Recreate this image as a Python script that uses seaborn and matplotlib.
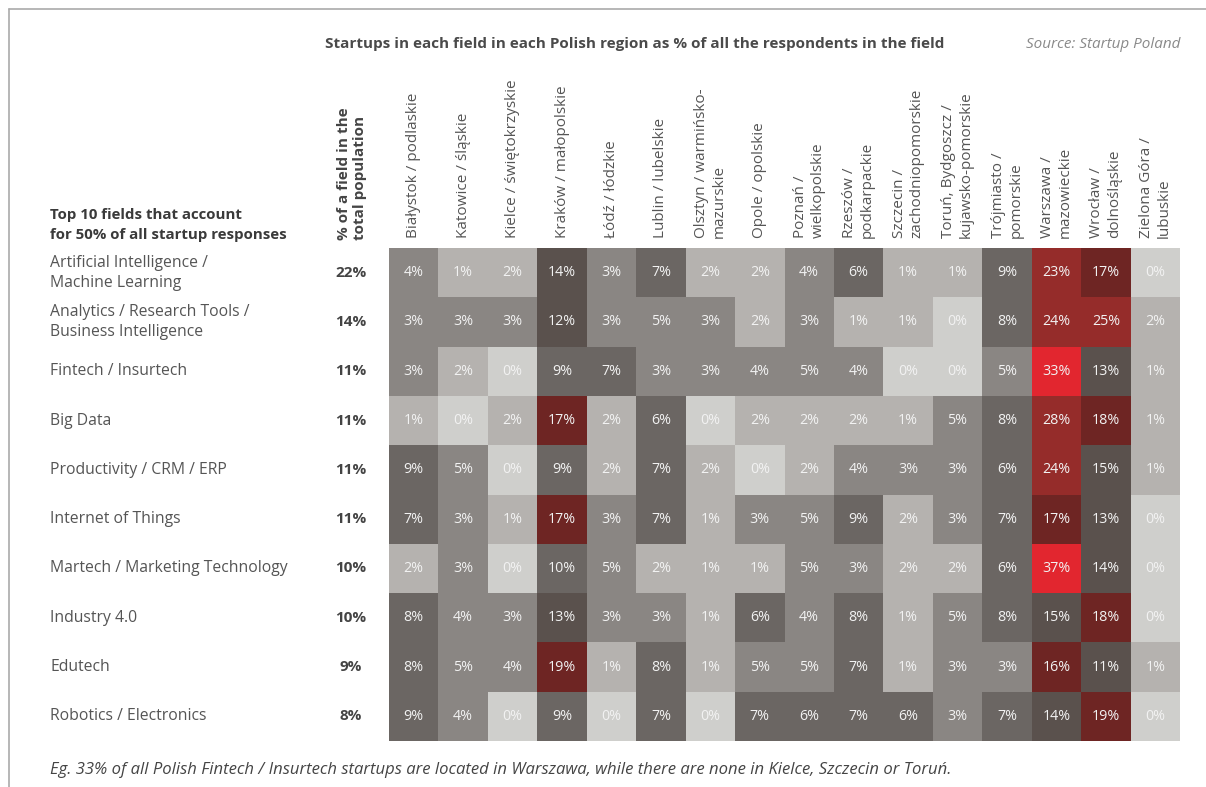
import numpy as np
import pandas as pd
import seaborn as sns
import matplotlib.pyplot as plt
from matplotlib.colors import ListedColormap, BoundaryNorm
from matplotlib.lines import Line2D
import matplotlib.transforms as mtransforms

sns.set_theme(style="white")
plt.rcParams['font.family'] = ['Open Sans', 'DejaVu Sans']

# dati
regions = [
    "Białystok / podlaskie", "Katowice / śląskie", "Kielce / świętokrzyskie",
    "Kraków / małopolskie", "Łódź / łódzkie", "Lublin / lubelskie",
    "Olsztyn / warmińsko-\nmazurskie", "Opole / opolskie", "Poznań /\nwielkopolskie",
    "Rzeszów /\npodkarpackie", "Szczecin /\nzachodniopomorskie",
    "Toruń, Bydgoszcz /\nkujawsko-pomorskie", "Trójmiasto /\npomorskie",
    "Warszawa /\nmazowieckie", "Wrocław /\ndolnośląskie", "Zielona Góra /\nlubuskie",
]
fields = [
    "Artificial Intelligence /\nMachine Learning",
    "Analytics / Research Tools /\nBusiness Intelligence",
    "Fintech / Insurtech",
    "Big Data",
    "Productivity / CRM / ERP",
    "Internet of Things",
    "Martech / Marketing Technology",
    "Industry 4.0",
    "Edutech",
    "Robotics / Electronics",
]
field_share = [22, 14, 11, 11, 11, 11, 10, 10, 9, 8]

ai = [4, 1, 2, 14, 3, 7, 2, 2, 4, 6, 1, 1, 9, 23, 17, 0]
analytics = [3, 3, 3, 12, 3, 5, 3, 2, 3, 1, 1, 0, 8, 24, 25, 2]
fintech = [3, 2, 0, 9, 7, 3, 3, 4, 5, 4, 0, 0, 5, 33, 13, 1]
big_data = [1, 0, 2, 17, 2, 6, 0, 2, 2, 2, 1, 5, 8, 28, 18, 1]
productivity = [9, 5, 0, 9, 2, 7, 2, 0, 2, 4, 3, 3, 6, 24, 15, 1]
iot = [7, 3, 1, 17, 3, 7, 1, 3, 5, 9, 2, 3, 7, 17, 13, 0]
martech = [2, 3, 0, 10, 5, 2, 1, 1, 5, 3, 2, 2, 6, 37, 14, 0]
industry = [8, 4, 3, 13, 3, 3, 1, 6, 4, 8, 1, 5, 8, 15, 18, 0]
edutech = [8, 5, 4, 19, 1, 8, 1, 5, 5, 7, 1, 3, 3, 16, 11, 1]
robotics = [9, 4, 0, 9, 0, 7, 0, 7, 6, 7, 6, 3, 7, 14, 19, 0]

df = pd.DataFrame(
    [ai, analytics, fintech, big_data, productivity, iot, martech, industry, edutech, robotics],
    index=fields, columns=regions,
)
labels = df.map(lambda v: f"{v}%")

# scala a classi: grigi per valori bassi, rossi per i più alti
bounds = [-0.5, 0.5, 2.5, 5.5, 10.5, 15.5, 19.5, 29.5, 40]
colors = ["#cfcfcc", "#b5b2af", "#8a8683", "#6b6663", "#5a514d",
          "#6e2523", "#952c2a", "#e2262f"]
cmap = ListedColormap(colors)
norm = BoundaryNorm(bounds, cmap.N)

fig = plt.figure(figsize=(12.06, 7.87), dpi=100)
ax = fig.add_axes([389 / 1206, 1 - 741 / 787, 791 / 1206, 493 / 787])

sns.heatmap(df, ax=ax, cmap=cmap, norm=norm, cbar=False, annot=labels, fmt="",
            annot_kws={"color": "#f2f2f2", "fontsize": 10.3}, linewidths=0)

ax.xaxis.tick_top()
ax.set_xticks(np.arange(len(regions)) + 0.5)
ax.set_xticklabels(regions, rotation=90, ha="center", va="bottom",
                   multialignment="left", fontsize=11, color="#555555",
                   linespacing=1.25)
ax.tick_params(axis="x", length=0, pad=7)
ax.set_yticks([])
ax.set_xlabel("")
ax.set_ylabel("")

# etichette dei campi e quota nella popolazione
trans = mtransforms.blended_transform_factory(fig.transFigure, ax.transData)
for i, (name, share) in enumerate(zip(fields, field_share)):
    ax.text(50 / 1206, i + 0.5, name, transform=trans, ha="left", va="center",
            fontsize=11.3, color="#555555", linespacing=1.35)
    ax.text(351 / 1206, i + 0.5, f"{share}%", transform=trans, ha="center",
            va="center", fontsize=11, fontweight="bold", color="#444444")

fig.text(50 / 1206, 1 - 242 / 787, "Top 10 fields that account\nfor 50% of all startup responses",
         ha="left", va="bottom", fontsize=10.8, fontweight="bold", color="#3a3a3a",
         linespacing=1.55)
fig.text(352 / 1206, 1 - 240 / 787, "% of a field in the\ntotal population",
         rotation=90, ha="center", va="bottom", multialignment="left",
         fontsize=11, fontweight="bold", color="#444444", linespacing=1.2)

fig.text(325 / 1206, 1 - 44 / 787,
         "Startups in each field in each Polish region as % of all the respondents in the field",
         ha="left", va="center", fontsize=11, fontweight="bold", color="#4a4a4a")
fig.text(1180 / 1206, 1 - 44 / 787, "Source: Startup Poland", ha="right", va="center",
         fontsize=11, fontstyle="italic", color="#8a8a8a")
fig.text(50 / 1206, 1 - 770 / 787,
         "Eg. 33% of all Polish Fintech / Insurtech startups are located in Warszawa, "
         "while there are none in Kielce, Szczecin or Toruń.",
         ha="left", va="center", fontsize=12, fontstyle="italic", color="#444444")

# cornice
fig.add_artist(Line2D([9 / 1206, 1], [1 - 9 / 787, 1 - 9 / 787], color="#aaaaaa", lw=1.2))
fig.add_artist(Line2D([9 / 1206, 9 / 1206], [0, 1 - 9 / 787], color="#aaaaaa", lw=1.2))

fig.savefig("out.png", dpi=100)
